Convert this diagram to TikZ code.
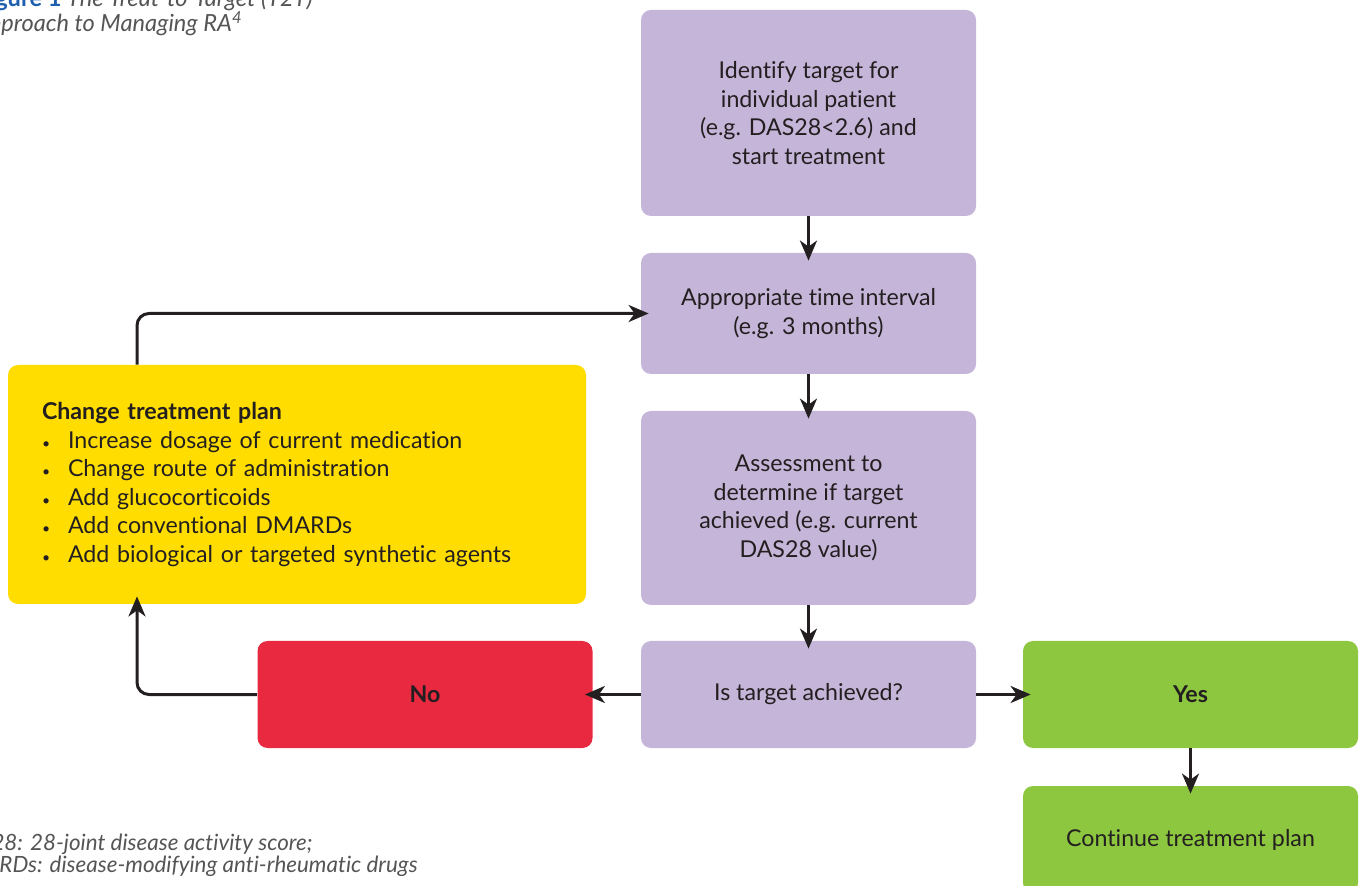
\documentclass[tikz,border=0pt]{standalone}
\usepackage{fontspec}
\setmainfont{Lato}[Ligatures={NoCommon}]
\usetikzlibrary{arrows.meta}
\definecolor{boxpurple}{RGB}{197, 181, 216}
\definecolor{noRed}{RGB}{232, 41, 64}
\definecolor{yesGreen}{RGB}{141, 198, 63}
\definecolor{planYellow}{RGB}{255, 221, 0}
\definecolor{textdark}{RGB}{35, 31, 32}
\definecolor{titleblue}{RGB}{30, 95, 175}
\definecolor{notegray}{RGB}{85, 85, 85}
\tikzset{
  stepbox/.style={rounded corners=5pt, minimum width=167.5pt, inner sep=0pt,
    align=center, text=textdark, font=\fontsize{11.6}{14.3}\selectfont},
  purplebox/.style={stepbox, fill=boxpurple},
  flow/.style={-{Stealth[length=10pt, width=8.5pt, inset=3pt]}, line width=1.5pt,
    draw=textdark, shorten >=-4pt, rounded corners=6pt},
  note/.style={text=notegray, font=\fontsize{11.2}{13}\selectfont\itshape, inner sep=0pt}
}

\begin{document}
\begin{tikzpicture}[x=0.5pt, y=-0.5pt]
  \useasboundingbox (0,0) rectangle (1359,886);
  \clip (0,0) rectangle (1359,886);

  % ---------- Title ----------
  \node[note, font=\fontsize{11.8}{13}\selectfont\itshape, anchor=base east] (title1) at (313,7)
    {\textcolor{titleblue}{\upshape\bfseries Figure 1} The Treat-to-Target (T2T)};
  \node[note, font=\fontsize{11.8}{13}\selectfont\itshape, anchor=base east] (title2) at (243,32)
    {Approach to Managing RA\textsuperscript{4}};

  % ---------- Main column ----------
  \node[purplebox, minimum height=103pt] (target) at (808.5,113)
    {Identify target for\\individual patient\\(e.g. DAS28<2.6) and\\start treatment};
  \node[purplebox, minimum height=60.5pt] (interval) at (808.5,313.5)
    {Appropriate time interval\\(e.g. 3 months)};
  \node[purplebox, minimum height=97pt] (assess) at (808.5,508)
    {Assessment to\\determine if target\\achieved (e.g. current\\DAS28 value)};
  \node[purplebox, minimum height=53.5pt] (check) at (808.5,694.5)
    {Is target achieved?};

  % ---------- Outcomes ----------
  \node[stepbox, fill=noRed, minimum height=53.5pt, font=\fontsize{11.6}{14.3}\selectfont\bfseries] (no) at (425,694.5) {No};
  \node[stepbox, fill=yesGreen, minimum height=53.5pt, font=\fontsize{11.6}{14.3}\selectfont\bfseries] (yes) at (1190.5,694.5) {Yes};
  \node[stepbox, fill=yesGreen, minimum height=53.5pt] (continue) at (1190.5,839.5)
    {Continue treatment plan};

  % ---------- Change treatment plan ----------
  \node[stepbox, fill=planYellow, minimum width=289pt, minimum height=119.5pt,
    text width=255pt, inner xsep=17pt, align=left] (plan) at (297,484.5)
    {{\bfseries Change treatment plan}\\
     \makebox[13pt][l]{\scriptsize\textbullet}Increase dosage of current medication\\
     \makebox[13pt][l]{\scriptsize\textbullet}Change route of administration\\
     \makebox[13pt][l]{\scriptsize\textbullet}Add glucocorticoids\\
     \makebox[13pt][l]{\scriptsize\textbullet}Add conventional DMARDs\\
     \makebox[13pt][l]{\scriptsize\textbullet}Add biological or targeted synthetic agents};

  % ---------- Arrows ----------
  \coordinate (bend) at (137,316);
  \draw[flow] (target) -- (interval);
  \draw[flow] (interval) -- (assess);
  \draw[flow] (assess) -- (check);
  \draw[flow] (check) -- (no);
  \draw[flow] (check) -- (yes);
  \draw[flow] (yes) -- (continue);
  \draw[flow] (no.west) -| (plan.south -| bend);
  \draw[flow] (plan.north -| bend) |- (interval.west);

  % ---------- Footnote ----------
  \node[note, anchor=base east] (note1) at (313,850) {DAS28: 28-joint disease activity score;};
  \node[note, anchor=base east] (note2) at (418,872) {DMARDs: disease-modifying anti-rheumatic drugs};

\end{tikzpicture}
\end{document}
